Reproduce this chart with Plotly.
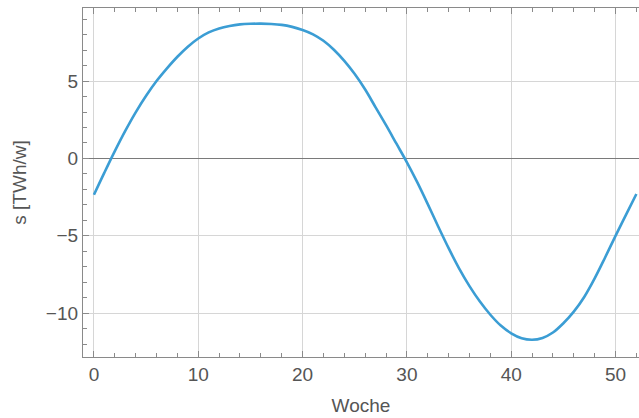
import plotly.graph_objects as go

weeks = list(range(0, 53))
s_values = [
    -2.35, -0.92, 0.47, 1.78, 2.98, 4.05, 5.0, 5.82, 6.57, 7.22,
    7.75, 8.14, 8.4, 8.56, 8.66, 8.7, 8.71, 8.69, 8.63, 8.5,
    8.3, 8.02, 7.6, 7.02, 6.3, 5.45, 4.45, 3.3, 2.15, 0.95,
    -0.25, -1.55, -2.95, -4.4, -5.8, -7.1, -8.25, -9.25, -10.1, -10.8,
    -11.3, -11.62, -11.72, -11.6, -11.25, -10.65, -9.9, -8.95, -7.75, -6.4,
    -5.0, -3.65, -2.3,
]
x_ticks = [0, 10, 20, 30, 40, 50]
y_ticks = [-10, -5, 0, 5]

fig = go.Figure()
fig.add_trace(go.Scatter(
    x=weeks, y=s_values, mode="lines",
    line=dict(color="#3b9dd4", width=2.6, shape="spline", smoothing=1.0),
    showlegend=False, hoverinfo="skip",
))

font = dict(family="Liberation Sans, Arial, sans-serif", size=19, color="#555555")

fig.update_layout(
    width=639, height=418,
    margin=dict(l=83, r=0, t=8, b=61),
    paper_bgcolor="white", plot_bgcolor="white",
    font=font,
    xaxis=dict(
        range=[-1.05, 52.25], tickvals=x_ticks,
        showgrid=True, gridcolor="#d6d6d6", gridwidth=1,
        showline=True, linecolor="#8a8a8a", linewidth=1.2, mirror="ticks",
        ticks="inside", ticklen=6, tickcolor="#8a8a8a", tickwidth=1,
        minor=dict(dtick=2, ticks="inside", ticklen=4, tickcolor="#8a8a8a", showgrid=False),
        zeroline=False,
        title=dict(text="Woche", font=font, standoff=14),
        tickfont=font,
    ),
    yaxis=dict(
        range=[-12.83, 9.72], tickvals=y_ticks,
        showgrid=True, gridcolor="#d6d6d6", gridwidth=1,
        showline=True, linecolor="#8a8a8a", linewidth=1.2, mirror=False,
        ticks="inside", ticklen=6, tickcolor="#8a8a8a", tickwidth=1,
        minor=dict(dtick=1, ticks="inside", ticklen=4, tickcolor="#8a8a8a", showgrid=False),
        zeroline=True, zerolinecolor="#7a7a7a", zerolinewidth=1.2,
        title=dict(text="s [TWh/w]", font=font, standoff=14),
        tickfont=font,
    ),
)

fig.write_html(
    "out.html",
    config={"displayModeBar": False},
    post_script="document.body.style.margin='0';document.body.style.overflow='hidden';",
)
